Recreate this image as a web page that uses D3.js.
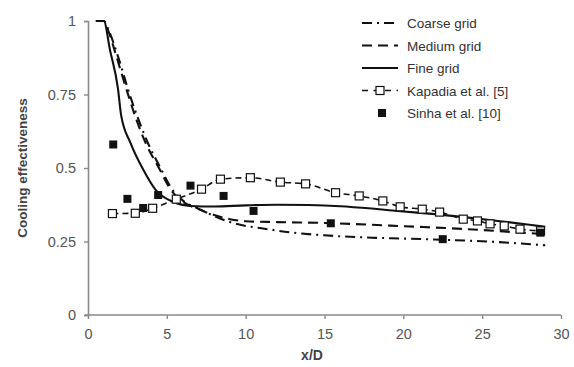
<!DOCTYPE html>
<html>
<head>
<meta charset="utf-8">
<script src="https://cdn.jsdelivr.net/npm/d3@7"></script>
<style>
  body { margin: 0; background: #fff; }
  text { font-family: "Liberation Sans", Arial, sans-serif; }
</style>
</head>
<body>
<script>
// series: [x/D, effectiveness]
const coarse = [[0.5,1],[1,1],[1.3,0.97],[1.9,0.88],[2.7,0.74],[3.2,0.665],[3.8,0.585],[4.6,0.5],[5.3,0.43],[6,0.39],[7,0.362],
  [8,0.337],[9,0.316],[10,0.303],[11,0.295],[13,0.28],[15,0.271],[18,0.263],[20,0.26],[23,0.255],[26,0.248],[29,0.237]];
const medium = [[0.5,1],[1,1],[1.3,0.965],[1.8,0.88],[2.6,0.74],[3.1,0.66],[3.7,0.58],[4.5,0.5],[5.2,0.43],[5.9,0.39],[7,0.36],
  [8,0.34],[9,0.326],[10,0.319],[12,0.316],[15,0.313],[18,0.307],[20,0.302],[23,0.295],[25,0.289],[27,0.282],[29,0.275]];
const fine = [[0.5,1],[1,1],[1.4,0.9],[1.9,0.77],[2.1,0.68],[2.7,0.585],[3.5,0.495],[4.3,0.425],[5.4,0.385],[6.5,0.371],
  [8,0.369],[10,0.373],[12,0.375],[14,0.374],[16,0.37],[18,0.362],[20,0.352],[22,0.343],[24,0.332],[26,0.32],[28,0.307],[29,0.3]];
const kapadia = [[1.55,0.345],[3,0.346],[4.1,0.363],[5.6,0.394],[7.2,0.428],[8.4,0.462],[10.3,0.467],[12.2,0.452],[13.8,0.446],
  [15.7,0.416],[17.2,0.405],[18.7,0.388],[19.8,0.368],[21.2,0.36],[22.3,0.35],[23.8,0.326],[24.7,0.32],[25.5,0.31],[26.4,0.303],
  [27.4,0.292],[28.7,0.286]];
const sinha = [[1.6,0.58],[2.5,0.395],[3.5,0.364],[4.45,0.408],[6.5,0.44],[8.6,0.405],[10.5,0.354],[15.4,0.312],[22.5,0.258],[28.7,0.28]];

const xTicks = [0, 5, 10, 15, 20, 25, 30];
const yTicks = [0, 0.25, 0.5, 0.75, 1];
const legendNames = ["Coarse grid", "Medium grid", "Fine grid", "Kapadia et al. [5]", "Sinha et al. [10]"];

const W = 574, H = 367;
const svg = d3.select("body").append("svg").attr("width", W).attr("height", H);

const x = d3.scaleLinear().domain([0, 30]).range([88, 561]);
const y = d3.scaleLinear().domain([0, 1]).range([315, 21]);

// axes
const axisColor = "#8a8a8a", labelColor = "#555";
const gx = svg.append("g").attr("transform", `translate(0,${y(0)})`)
  .call(d3.axisBottom(x).tickValues(xTicks).tickFormat(d3.format("d")).tickSizeOuter(0).tickSize(4).tickPadding(10));
const gy = svg.append("g").attr("transform", `translate(${x(0)},0)`)
  .call(d3.axisLeft(y).tickValues(yTicks).tickFormat(d => d).tickSizeOuter(0).tickSize(4).tickPadding(8));
[gx, gy].forEach(g => {
  g.select(".domain").attr("stroke", axisColor).attr("stroke-width", 1.6);
  g.selectAll(".tick line").attr("stroke", axisColor).attr("stroke-width", 1.4);
  g.selectAll(".tick text").attr("fill", labelColor).attr("font-size", 14.5)
    .attr("font-family", "'Liberation Sans', Arial, sans-serif");
});
gx.select(".domain").attr("d", `M${x(0) - 3},0H${x(30)}`);

svg.append("text").attr("x", 312).attr("y", 360).attr("text-anchor", "middle")
  .attr("font-size", 14).attr("font-weight", "bold").attr("fill", "#444").text("x/D");
svg.append("text").attr("transform", `translate(27,${y(0.5)}) rotate(-90)`).attr("text-anchor", "middle")
  .attr("font-size", 13.5).attr("font-weight", "bold").attr("fill", "#444").text("Cooling effectiveness");

const line = d3.line().x(d => x(d[0])).y(d => y(d[1])).curve(d3.curveMonotoneX);

const styles = [
  { data: coarse, dash: "10,5,2,5", width: 2.1 },
  { data: medium, dash: "10,6", width: 2.1 },
  { data: fine, dash: null, width: 2.1 }
];
styles.forEach(s => {
  svg.append("path").datum(s.data).attr("d", line).attr("fill", "none")
    .attr("stroke", "#111").attr("stroke-width", s.width).attr("stroke-dasharray", s.dash);
});

svg.append("path").datum(kapadia).attr("d", line).attr("fill", "none")
  .attr("stroke", "#111").attr("stroke-width", 1.6).attr("stroke-dasharray", "6,4");
svg.append("g").selectAll("rect").data(kapadia).join("rect")
  .attr("x", d => x(d[0]) - 4).attr("y", d => y(d[1]) - 4).attr("width", 8).attr("height", 8)
  .attr("fill", "#fff").attr("stroke", "#111").attr("stroke-width", 1.2);

svg.append("g").selectAll("rect").data(sinha).join("rect")
  .attr("x", d => x(d[0]) - 4).attr("y", d => y(d[1]) - 4).attr("width", 8).attr("height", 8)
  .attr("fill", "#111");

// legend
const leg = svg.append("g");
const rowY = i => 23 + i * 22.5;
legendNames.forEach((name, i) => {
  const cy = rowY(i);
  if (i < 4) {
    const s = i < 3 ? styles[i] : { dash: "6,5.5", width: 1.6 };
    leg.append("line").attr("x1", 362).attr("x2", 398).attr("y1", cy).attr("y2", cy)
      .attr("stroke", "#111").attr("stroke-width", s.width).attr("stroke-dasharray", s.dash);
  }
  if (i === 3) {
    leg.append("rect").attr("x", 376).attr("y", cy - 4).attr("width", 8).attr("height", 8)
      .attr("fill", "#fff").attr("stroke", "#111").attr("stroke-width", 1.2);
  }
  if (i === 4) {
    leg.append("rect").attr("x", 378).attr("y", cy - 4).attr("width", 8).attr("height", 8).attr("fill", "#111");
  }
  leg.append("text").attr("x", 407).attr("y", cy + 5).attr("font-size", 13.5).attr("fill", "#333").text(name);
});
</script>
</body>
</html>
